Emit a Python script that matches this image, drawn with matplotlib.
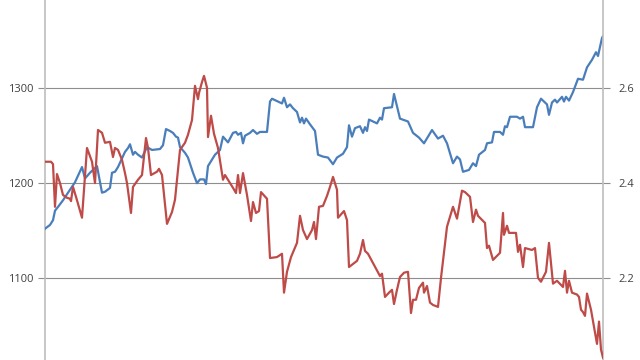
import matplotlib
matplotlib.use("Agg")
import matplotlib.pyplot as plt

# Blue series (left axis)
blue_day = [0, 5, 8, 10, 13, 18, 23, 30, 37, 40, 45, 50, 52, 57, 60, 65, 67, 70, 73, 80, 83, 85, 88, 90,
            93, 97, 102, 107, 115, 118, 121, 125, 128, 131, 133, 135, 140, 143, 148, 152, 155, 159, 161,
            163, 170, 175, 178, 183, 188, 191, 193, 196, 198, 200, 205, 208, 212, 215, 222, 225, 227, 237,
            239, 242, 245, 248, 252, 255, 257, 259, 261, 265, 270, 273, 278, 283, 288, 292, 298, 302, 304,
            307, 310, 315, 318, 320, 322, 324, 332, 335, 337, 339, 347, 349, 352, 355, 363, 368, 374, 379,
            387, 393, 398, 402, 408, 412, 415, 418, 424, 428, 431, 434, 440, 442, 447, 449, 455, 458, 460,
            462, 465, 472, 475, 478, 480, 488, 492, 496, 502, 504, 507, 510, 512, 517, 519, 521, 524, 528,
            533, 538, 542, 547, 551, 553, 557, 558]
blue_val = [1152, 1156, 1161, 1171, 1175, 1182, 1190, 1201, 1217, 1205, 1211, 1216, 1218, 1190, 1191,
            1195, 1211, 1212, 1217, 1233, 1237, 1241, 1230, 1233, 1230, 1227, 1238, 1235, 1236, 1240, 1257,
            1255, 1253, 1249, 1248, 1238, 1232, 1227, 1211, 1200, 1204, 1204, 1199, 1218, 1230, 1235, 1249,
            1243, 1253, 1254, 1251, 1253, 1242, 1250, 1253, 1256, 1252, 1254, 1254, 1286, 1289, 1284, 1290,
            1280, 1283, 1279, 1275, 1264, 1269, 1263, 1268, 1262, 1255, 1230, 1228, 1227, 1220, 1227, 1231,
            1238, 1261, 1249, 1258, 1260, 1253, 1259, 1255, 1267, 1263, 1269, 1267, 1279, 1280, 1294, 1281,
            1268, 1265, 1253, 1248, 1242, 1256, 1247, 1250, 1242, 1221, 1228, 1225, 1212, 1214, 1221, 1218,
            1230, 1235, 1242, 1243, 1254, 1254, 1251, 1260, 1259, 1270, 1270, 1268, 1270, 1259, 1259, 1280,
            1289, 1283, 1272, 1285, 1288, 1285, 1291, 1286, 1291, 1287, 1296, 1310, 1309, 1322, 1330, 1338,
            1334, 1353, 1355]

# Red series (right axis)
red_day = [0, 6, 8, 10, 12, 15, 18, 22, 25, 26, 28, 31, 37, 42, 47, 50, 53, 57, 60, 65, 68, 70, 73, 77,
           80, 82, 86, 88, 93, 97, 101, 103, 106, 112, 114, 117, 122, 127, 130, 132, 135, 140, 143, 147,
           150, 153, 154, 157, 159, 162, 163, 166, 169, 173, 178, 180, 183, 188, 191, 193, 195, 198, 202,
           206, 208, 211, 214, 216, 222, 225, 232, 237, 239, 242, 246, 252, 255, 258, 262, 267, 269, 271,
           274, 278, 282, 285, 288, 292, 293, 299, 302, 304, 312, 315, 318, 320, 323, 335, 337, 340, 344,
           347, 349, 352, 355, 359, 363, 366, 368, 371, 374, 378, 379, 382, 385, 388, 393, 396, 402, 408,
           412, 417, 420, 425, 428, 431, 433, 440, 442, 444, 448, 455, 458, 459, 462, 464, 471, 473, 475,
           478, 480, 487, 490, 493, 496, 501, 504, 508, 512, 518, 520, 522, 524, 527, 532, 534, 536, 538,
           540, 542, 546, 552, 554, 556, 558]
red_val = [2.445, 2.445, 2.440, 2.350, 2.419, 2.400, 2.375, 2.369, 2.367, 2.362, 2.392, 2.371, 2.327,
           2.474, 2.445, 2.400, 2.512, 2.506, 2.485, 2.487, 2.455, 2.474, 2.470, 2.449, 2.421, 2.400,
           2.337, 2.392, 2.407, 2.417, 2.495, 2.474, 2.417, 2.424, 2.430, 2.417, 2.314, 2.339, 2.365,
           2.407, 2.470, 2.485, 2.502, 2.533, 2.605, 2.577, 2.590, 2.613, 2.626, 2.601, 2.497, 2.542,
           2.504, 2.474, 2.407, 2.417, 2.407, 2.390, 2.379, 2.417, 2.379, 2.421, 2.375, 2.320, 2.360,
           2.337, 2.341, 2.381, 2.367, 2.242, 2.244, 2.251, 2.169, 2.213, 2.244, 2.274, 2.331, 2.301,
           2.282, 2.301, 2.318, 2.282, 2.350, 2.352, 2.373, 2.392, 2.413, 2.386, 2.327, 2.341, 2.322,
           2.223, 2.236, 2.251, 2.280, 2.257, 2.251, 2.204, 2.209, 2.160, 2.169, 2.175, 2.145, 2.175,
           2.202, 2.211, 2.213, 2.126, 2.154, 2.154, 2.179, 2.190, 2.169, 2.183, 2.148, 2.143, 2.139,
           2.200, 2.308, 2.350, 2.325, 2.384, 2.381, 2.371, 2.318, 2.344, 2.331, 2.316, 2.263, 2.268,
           2.238, 2.253, 2.337, 2.291, 2.310, 2.295, 2.295, 2.255, 2.270, 2.223, 2.263, 2.259, 2.263,
           2.200, 2.192, 2.213, 2.274, 2.188, 2.194, 2.181, 2.215, 2.169, 2.194, 2.169, 2.165, 2.160,
           2.133, 2.128, 2.120, 2.167, 2.133, 2.061, 2.108, 2.049, 2.032]

left_ticks = [1100, 1200, 1300]
right_ticks = [2.2, 2.4, 2.6]
right_labels = ["2.2", "2.4", "2.6"]

BLUE = "#4A7EBB"
RED = "#BE4B48"
GRID = "#8E8E8E"
TXT = "#404040"

fig = plt.figure(figsize=(6.4, 3.6), dpi=100)
ax = fig.add_axes([45 / 640, 0.0, (603 - 45) / 640, 1.0])
ax2 = ax.twinx()

ax.set_xlim(0, 558)
ax.set_ylim(1013.7, 1393.0)
ax2.set_ylim(2.027, 2.786)

ax.set_yticks(left_ticks)
ax.set_yticklabels([str(t) for t in left_ticks])
ax2.set_yticks(right_ticks)
ax2.set_yticklabels(right_labels)
ax.set_xticks([])

ax.yaxis.grid(True, color=GRID, linewidth=0.8)
ax.set_axisbelow(True)

for a in (ax, ax2):
    for s in ("top", "bottom", "left", "right"):
        a.spines[s].set_visible(False)
ax.spines["left"].set_visible(True)
ax.spines["left"].set_color("#BDBDBD")
ax.spines["left"].set_linewidth(1.2)
ax2.spines["right"].set_visible(True)
ax2.spines["right"].set_color("#BDBDBD")
ax2.spines["right"].set_linewidth(1.2)

ax.tick_params(axis="y", length=5, width=0.8, color=GRID, labelsize=8, labelcolor=TXT, pad=3)
ax2.tick_params(axis="y", length=5, width=0.8, color=GRID, labelsize=8, labelcolor=TXT, pad=6)
for lab in ax.get_yticklabels() + ax2.get_yticklabels():
    lab.set_family("Open Sans")

ax.plot(blue_day, blue_val, color=BLUE, linewidth=1.6, solid_joinstyle="round", zorder=3)
ax2.plot(red_day, red_val, color=RED, linewidth=1.6, solid_joinstyle="round", zorder=3)

fig.savefig("out.png", dpi=100)
